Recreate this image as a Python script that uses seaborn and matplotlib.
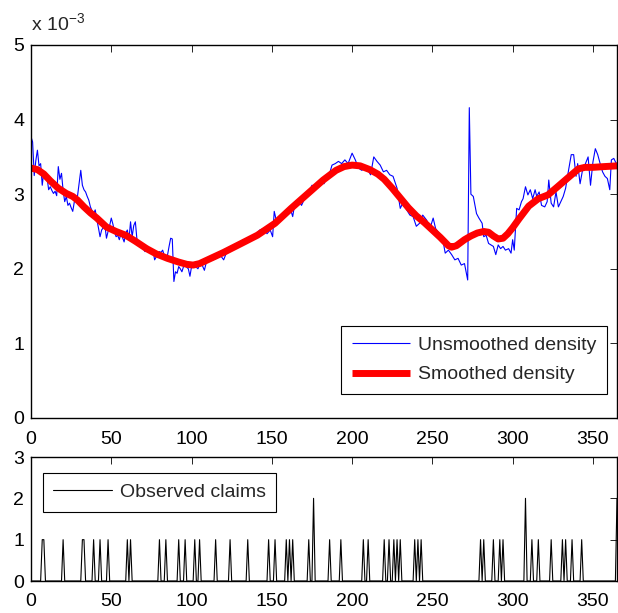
import numpy as np
import matplotlib
matplotlib.use("Agg")
import matplotlib.pyplot as plt
import seaborn as sns

# ---------------- data ----------------
# unsmoothed density (units of 1e-3)
raw_days = [0, 1, 2, 3, 4, 5, 6, 7, 8, 9, 10, 11, 12, 13, 14, 15, 16, 17, 18, 19,
            20, 21, 22, 23, 24, 25, 26, 27, 28, 29, 30, 31, 32, 33, 34, 35, 36, 37, 38, 39,
            40, 41, 42, 43, 44, 45, 46, 47, 48, 49, 50, 51, 52, 53, 54, 55, 56, 57, 58, 59,
            60, 61, 62, 63, 64, 65, 66, 67, 68, 69, 70, 71, 72, 73, 74, 75, 76, 77, 78, 79,
            80, 81, 82, 83, 84, 85, 86, 87, 88, 89, 90, 91, 92, 93, 94, 95, 96, 97, 98, 99,
            100, 101, 102, 103, 104, 105, 106, 107, 108, 109,
            110, 111.5, 113.5, 115.5, 118, 120, 122, 124, 126, 128, 130, 132, 134, 136.5,
            138.5, 140.5, 142.5, 145, 147, 149, 150.5, 151.5, 153, 155, 157, 159, 161.5,
            163, 164.5, 166.5, 168.5, 171, 173, 175, 177, 179, 181, 182.5, 184, 186, 187.5,
            189.5, 191.5, 193.5, 195.5, 197.5, 200, 202, 204, 206, 208, 210, 211.5, 213.5,
            215.5, 217.5, 219.5, 221.5, 223.5, 225.5, 228, 230, 232, 234, 236, 238, 240,
            242, 244, 246.5, 248.5, 250.5, 252, 254, 256.5, 258, 260, 262, 264, 266, 268,
            270, 272, 273, 274, 275.5, 277.5, 279, 281, 282, 283.5, 285, 286.5, 288, 289.5,
            291, 292.5, 294, 295.5, 297.5, 299, 300, 301, 302.5, 304, 305.5, 306.5, 308,
            309.5, 311, 312.5, 314, 315, 316.5, 318, 320, 321.5, 322.5, 324, 325.5, 327,
            328.5, 330, 331.5, 333, 334.5, 336.5, 338, 339.5, 340.5, 342, 343.5, 345, 347,
            348.5, 350, 351.5, 353, 354.5, 356, 357.5, 359, 360.5, 361.5, 363, 365]
raw_density = [3.77, 3.70, 3.25, 3.45, 3.59, 3.38, 3.41, 3.12, 3.30, 3.26, 3.22, 3.06, 3.10, 3.05, 3.01, 3.04, 2.98, 3.37, 3.20, 3.28,
               3.05, 2.90, 2.97, 2.85, 2.88, 2.82, 2.77, 2.90, 2.93, 2.98, 3.15, 3.32, 3.12, 3.06, 3.03, 2.97, 2.92, 2.83, 2.78, 2.74,
               2.79, 2.66, 2.55, 2.43, 2.52, 2.55, 2.59, 2.41, 2.50, 2.58, 2.68, 2.60, 2.50, 2.43, 2.45, 2.39, 2.47, 2.42, 2.36, 2.48,
               2.52, 2.39, 2.63, 2.43, 2.58, 2.63, 2.39, 2.36, 2.34, 2.30, 2.27, 2.23, 2.28, 2.30, 2.21, 2.24, 2.25, 2.12, 2.16, 2.18,
               2.23, 2.22, 2.25, 2.18, 2.14, 2.18, 2.30, 2.41, 2.40, 1.83, 1.96, 1.94, 2.03, 2.00, 1.96, 2.03, 2.05, 2.02, 2.00, 1.90,
               2.03, 2.04, 2.05, 2.02, 2.00, 2.06, 2.09, 2.03, 1.98, 2.07,
               2.10, 2.14, 2.12, 2.14, 2.18, 2.12, 2.23, 2.25, 2.27, 2.32, 2.34, 2.39, 2.39, 2.43,
               2.45, 2.47, 2.52, 2.54, 2.47, 2.52, 2.43, 2.77, 2.63, 2.68, 2.74, 2.77, 2.81,
               2.70, 2.90, 2.92, 2.85, 2.97, 3.01, 3.12, 3.10, 3.14, 3.17, 3.14, 3.21, 3.28, 3.39,
               3.41, 3.44, 3.41, 3.46, 3.41, 3.55, 3.46, 3.35, 3.32, 3.35, 3.32, 3.26, 3.50,
               3.44, 3.39, 3.30, 3.32, 3.26, 3.24, 3.08, 2.81, 2.90, 2.79, 2.72, 2.70, 2.57,
               2.61, 2.72, 2.65, 2.54, 2.68, 2.54, 2.48, 2.39, 2.21, 2.25, 2.19, 2.12, 2.14, 2.05,
               2.07, 1.85, 4.16, 3.00, 2.97, 2.74, 2.68, 2.61, 2.43, 2.45, 2.34, 2.32, 2.30, 2.19,
               2.32, 2.27, 2.30, 2.25, 2.27, 2.21, 2.39, 2.25, 2.81, 2.79, 2.90, 2.94, 3.10,
               2.99, 3.06, 2.94, 3.06, 2.97, 3.03, 2.85, 2.83, 2.90, 3.19, 2.88, 2.83, 3.03,
               2.83, 2.90, 2.97, 3.08, 3.28, 3.53, 3.53, 3.24, 3.41, 3.14, 3.32, 3.39, 3.50,
               3.12, 3.43, 3.61, 3.53, 3.41, 3.30, 3.24, 3.21, 3.06, 3.46, 3.48, 3.39]

# smoothed density (units of 1e-3)
smooth_days = [0, 4, 8, 12, 17, 22, 26, 29, 33, 37, 41, 47, 53, 59, 65, 72, 78, 85, 92, 97,
               101, 105, 110, 120, 131, 141, 152, 162, 172, 182, 190, 195, 200, 205, 211, 216,
               220, 225, 230, 235, 240, 245, 250, 255, 260, 262, 265, 270, 274, 278, 282, 285,
               288, 291, 294, 297, 300, 304, 310, 316, 322, 328, 335, 341, 345, 350, 357, 365]
smooth_density = [3.35, 3.33, 3.27, 3.18, 3.08, 3.01, 2.97, 2.92, 2.83, 2.75, 2.68, 2.56, 2.50, 2.45, 2.37, 2.27, 2.20, 2.14, 2.09, 2.06,
                  2.05, 2.07, 2.12, 2.22, 2.34, 2.45, 2.61, 2.81, 3.00, 3.19, 3.32, 3.37, 3.39, 3.38, 3.33, 3.27,
                  3.20, 3.08, 2.95, 2.82, 2.71, 2.62, 2.52, 2.42, 2.31, 2.29, 2.31, 2.39, 2.44, 2.48, 2.50, 2.49,
                  2.44, 2.40, 2.41, 2.47, 2.55, 2.67, 2.84, 2.94, 2.99, 3.10, 3.23, 3.34, 3.36, 3.36, 3.37, 3.38]

# observed claims (day, count)
claim_days = [7, 8, 20, 32, 33, 39, 43, 48, 60, 62, 80, 84, 92, 96, 102, 105, 115, 124, 135,
              148, 152, 159, 161, 163, 173, 176, 186, 193, 207, 210, 220, 223, 226, 228, 230,
              239, 241, 243, 280, 282, 288, 292, 294, 308, 312, 316, 324, 331, 333, 337, 343, 365]
claim_counts = [1, 1, 1, 1, 1, 1, 1, 1, 1, 1, 1, 1, 1, 1, 1, 1, 1, 1, 1,
                1, 1, 1, 1, 1, 1, 2, 1, 1, 1, 1, 1, 1, 1, 1, 1,
                1, 1, 1, 1, 1, 1, 1, 1, 2, 1, 1, 1, 1, 1, 1, 1, 2]

x_ticks = [0, 50, 100, 150, 200, 250, 300, 350]
top_yticks = [0, 1, 2, 3, 4, 5]
bottom_yticks = [0, 1, 2, 3]

# ---------------- style ----------------
sns.set_theme(style="white")
plt.rcParams['font.family'] = ['Liberation Sans', 'DejaVu Sans']
FS = 14

W, H = 618, 613
fig = plt.figure(figsize=(W / 100, H / 100), dpi=100)
ax1 = fig.add_axes([31 / W, (H - 418) / H, 586 / W, 373 / H])
ax2 = fig.add_axes([31 / W, (H - 581) / H, 586 / W, 124 / H])

sns.lineplot(x=raw_days, y=raw_density, ax=ax1, color='#0000ff', linewidth=0.8,
             label='Unsmoothed density', estimator=None, sort=False)
sns.lineplot(x=smooth_days, y=smooth_density, ax=ax1, color='#ff0000', linewidth=5,
             label='Smoothed density', estimator=None, sort=False)

all_days = np.arange(0, 366)
daily_claims = np.zeros(len(all_days))
daily_claims[np.array(claim_days)] = claim_counts
sns.lineplot(x=all_days, y=daily_claims, ax=ax2, color='black', linewidth=0.8,
             label='Observed claims', estimator=None, sort=False)

for ax, yt in ((ax1, top_yticks), (ax2, bottom_yticks)):
    ax.set_xlim(0, 365)
    ax.set_ylim(yt[0], yt[-1])
    ax.set_xticks(x_ticks)
    ax.set_yticks(yt)
    ax.set_xticklabels([str(v) for v in x_ticks])
    ax.set_yticklabels([str(v) for v in yt])
    ax.set_xlabel('')
    ax.set_ylabel('')
    ax.tick_params(direction='in', top=True, right=True, length=5, width=0.6,
                   labelsize=FS, colors='black')
    ax.tick_params(axis='x', pad=9)
    ax.tick_params(axis='y', pad=5)
    for s in ax.spines.values():
        s.set_visible(True)
        s.set_color('black')
        s.set_linewidth(1.0)
    ax.set_facecolor('white')

ax1.annotate('x 10$^{\\mathregular{-3}}$', xy=(0, 1), xycoords='axes fraction',
             xytext=(0, 7), textcoords='offset points', ha='left', va='bottom',
             fontsize=FS)

leg1 = ax1.legend(loc='lower right', bbox_to_anchor=(0.983, 0.064), fontsize=FS,
                  frameon=True, fancybox=False, edgecolor='black', framealpha=1,
                  handlelength=3.0, handletextpad=0.4, borderpad=0.55, labelspacing=0.6,
                  borderaxespad=0)
leg1.get_frame().set_linewidth(0.8)
for ln in leg1.get_lines():
    ln.set_solid_capstyle('butt')
leg2 = ax2.legend(loc='upper left', bbox_to_anchor=(0.02, 0.873), fontsize=FS,
                  frameon=True, fancybox=False, edgecolor='black', framealpha=1,
                  handlelength=3.0, handletextpad=0.4, borderpad=0.55,
                  borderaxespad=0)
leg2.get_frame().set_linewidth(0.8)

fig.savefig('out.png', dpi=100)
